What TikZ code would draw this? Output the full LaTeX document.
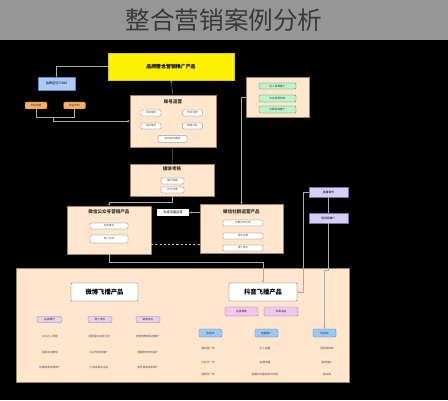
\documentclass[tikz,border=0pt]{standalone}
\usepackage{fontspec}
\setmainfont{Noto Sans CJK SC}
\usetikzlibrary{arrows.meta,positioning}
\definecolor{hdr}{HTML}{969696}
\definecolor{ttl}{HTML}{3A3A3A}
\definecolor{peach}{HTML}{FFE6CC}
\definecolor{peachline}{HTML}{9C8468}
\definecolor{towsblue}{HTML}{A9CBF5}
\definecolor{towsline}{HTML}{5E86BE}
\definecolor{orng}{HTML}{F2B06A}
\definecolor{orngline}{HTML}{B46504}
\definecolor{grn}{HTML}{BDF2CB}
\definecolor{grnline}{HTML}{3E7A3E}
\definecolor{lav}{HTML}{D4D0F5}
\definecolor{lavline}{HTML}{7A70B0}
\definecolor{pnk}{HTML}{EEC8EE}
\definecolor{pnkline}{HTML}{9A5C9A}
\definecolor{colhd}{HTML}{E6D2F0}
\definecolor{colline}{HTML}{8E6AA0}
\definecolor{blu}{HTML}{9CC8F5}
\definecolor{bluline}{HTML}{3A78C2}

\begin{document}
\begin{tikzpicture}[x=0.5mm,y=-0.5mm,
  sz/.style 2 args={minimum width=#1*0.5mm,minimum height=#2*0.5mm,inner sep=0pt},
  card/.style={draw=peachline,fill=peach,line width=0.3pt},
  cardtitle/.style={font=\bfseries\fontsize{6.5}{7}\selectfont,text=black!80},
  chip/.style={draw=gray!70!black,fill=white,rounded corners=0.6mm,line width=0.3pt,font=\fontsize{3.6}{4}\selectfont,text=black!70},
  tiny/.style={font=\fontsize{3.8}{4}\selectfont,text=black!70},
  tag/.style={rounded corners=0.6mm,line width=0.4pt,font=\fontsize{3.8}{4}\selectfont,text=black!80},
  wire/.style={draw=gray!65,line width=0.4pt},
  link/.style={wire,-{Stealth[length=1.2mm,width=1mm]}}]
\useasboundingbox (0,0) rectangle (448,400);
\fill[black] (0,0) rectangle (448,400);
\fill[hdr] (0,0) rectangle (448,40);
\node[font=\fontsize{35}{40}\selectfont,text=ttl] (title) at (224,20) {整合营销案例分析};

% upper part
\node[sz={126}{27},fill=yellow,draw=yellow!80!black,font=\bfseries\fontsize{7}{8}\selectfont] (top) at (171,66.5) {品牌整合营销推广产品};
\node[sz={37}{13},fill=towsblue,draw=towsline,font=\fontsize{4.5}{5}\selectfont] (tows) at (56.5,83.5) {品牌定位TOWS};
\node[sz={22}{7},tag,fill=orng,draw=orngline] (res) at (36,105.5) {市场调研};
\node[sz={22}{7},tag,fill=orng,draw=orngline] (comp) at (74.5,105.5) {竞品分析};

\node[sz={86}{52},card] (acct) at (173,121) {};
\node[cardtitle] (acct-t) at (173,102) {账号运营};
\node[sz={20}{6},chip] (a1) at (151,113) {内容策划};
\node[sz={20}{6},chip] (a2) at (192.5,113) {粉丝运营};
\node[sz={20}{6},chip] (a3) at (151,126) {活动策划};
\node[sz={20}{6},chip] (a4) at (192.5,126) {数据分析};
\node[sz={29}{7},chip] (a5) at (172.5,139) {账号矩阵搭建};

\node[sz={63}{40},card] (kol) at (277.5,97) {};
\node[sz={37}{6},tag,fill=grn,draw=grnline] (g1) at (277.5,86) {达人种草推广};
\node[sz={37}{7},tag,fill=grn,draw=grnline] (g2) at (277.5,98.5) {KOL资源合作};
\node[sz={37}{7},tag,fill=grn,draw=grnline] (g3) at (277.5,109.5) {社群裂变推广};

\node[sz={84}{32},card] (media) at (172,180) {};
\node[cardtitle] (media-t) at (172,169) {媒体考核};
\node[sz={23}{6},chip] (m1) at (172.5,181) {曝光数据};
\node[sz={23}{6},chip] (m2) at (172.5,190) {转化效果};

\node[sz={84}{48},card] (wxgz) at (109,230) {};
\node[cardtitle] (wxgz-t) at (109,212) {微信公众号营销产品};
\node[sz={38}{6},chip] (l1) at (109,226) {内容推送};
\node[sz={38}{8},chip] (l2) at (109,239) {用户互动};

\node[sz={32}{7},fill=white,font=\fontsize{4.5}{5}\selectfont] (priv) at (173,212.5) {私域流量运营};

\node[sz={83}{49},card] (wxsq) at (241.5,229) {};
\node[cardtitle] (wxsq-t) at (241.5,212) {微信社群运营产品};
\node[sz={40}{6},chip] (r1) at (243,223) {社群拉新引流};
\node[sz={40}{6},chip] (r2) at (243,236) {活动运营};
\node[sz={40}{6},chip] (r3) at (243,248) {用户转化};

\node[sz={39}{10},fill=lav,draw=lavline,font=\fontsize{4}{5}\selectfont] (live) at (328.5,192) {直播带货};
\node[sz={39}{10},fill=lav,draw=lavline,font=\fontsize{4}{5}\selectfont] (video) at (328.5,218) {短视频推广};

% lower panel
\node[sz={333}{114},card] (panel) at (182.5,325) {};
\node[sz={67}{18},draw=gray!60!black,fill=white,rounded corners=0.5mm,line width=0.5pt,font=\bfseries\fontsize{9}{10}\selectfont] (wb) at (104.5,292) {微博飞播产品};
\node[sz={68}{18},draw=gray!60!black,fill=white,rounded corners=0.5mm,line width=0.5pt,font=\bfseries\fontsize{9}{10}\selectfont] (dy) at (263,292) {抖音飞播产品};
\node[sz={33}{9},tag,fill=pnk,draw=pnkline] (tp1) at (241.5,311.5) {投放策略};
\node[sz={34}{9},tag,fill=pnk,draw=pnkline] (tp2) at (281,311.5) {效果追踪};

\node[sz={25}{6},tag,fill=colhd,draw=colline] (c1) at (49.5,319.5) {品牌曝光};
\node[sz={24}{6},tag,fill=colhd,draw=colline] (c2) at (100,319.5) {用户增长};
\node[sz={24}{6},tag,fill=colhd,draw=colline] (c3) at (148,319.5) {销售转化};
\node[tiny] (c1a) at (50,336) {KOL达人种草};
\node[tiny] (c1b) at (50,352) {话题活动策划};
\node[tiny] (c1c) at (50,367) {热搜榜单投放推广};
\node[tiny] (c2a) at (99,336) {社群裂变拉新引流};
\node[tiny] (c2b) at (99,352) {公众号矩阵推广};
\node[tiny] (c2c) at (99,367) {小程序裂变活动};
\node[tiny] (c3a) at (148,336) {优惠券精准投放推广};
\node[tiny] (c3b) at (148,352) {直播带货转化推广};
\node[tiny] (c3c) at (148,367) {会员营销体系推广};

\node[sz={23}{8},tag,fill=blu,draw=bluline] (b1) at (210.5,333) {信息流};
\node[sz={23}{8},tag,fill=blu,draw=bluline] (b2) at (266.5,333) {直播推广};
\node[sz={23}{8},tag,fill=blu,draw=bluline] (b3) at (324.5,333) {短视频};
\node[tiny] (b1a) at (208,348) {朋友圈广告};
\node[tiny] (b1b) at (208,362) {公众号广告};
\node[tiny] (b1c) at (208,374) {视频号广告};
\node[tiny] (b2a) at (265,348) {达人直播};
\node[tiny] (b2b) at (265,362) {品牌自播};
\node[tiny] (b2c) at (265,374) {直播间流量投放与转化};
\node[tiny] (b3a) at (327,348) {短视频种草};
\node[tiny] (b3b) at (327,362) {剧情植入};
\node[tiny] (b3c) at (327,374) {挑战赛};

% connectors
\coordinate (j1) at (53,117);
\coordinate (j2) at (172,202);
\coordinate (j3) at (175,244);
\coordinate (j4) at (108,262);
\coordinate (j5) at (303,192);
\coordinate (j6) at (325,270);
\draw[link] (top.west) -| (tows.north);
\draw[link] (acct.north) -- (top.south);
\draw[link] (res.south) |- (j1) |- (acct.west);
\draw[wire] (comp.south) |- (j1);
\draw[wire] (acct.south) -- (media.north);
\draw[link] (media.south) -- (j2) -| (wxgz.north);
\draw[link] (kol.west) -| (wxsq.north);
\draw[link] (wxsq.west |- priv) -- (priv.east);
\draw[wire,draw=gray!45,dashed] (wxgz.east |- j3) -- (wxsq.west |- j3);
\draw[link] (wxgz.south) -- (wxgz.south |- j4) -| (dy.north);
\draw[link] (live.west) -- (j5) |- (dy.east);
\draw[wire] (live.south) -- (video.north);
\draw[link] (video.south) -- (video.south |- j6) -| (b3.north);
\end{tikzpicture}
\end{document}
